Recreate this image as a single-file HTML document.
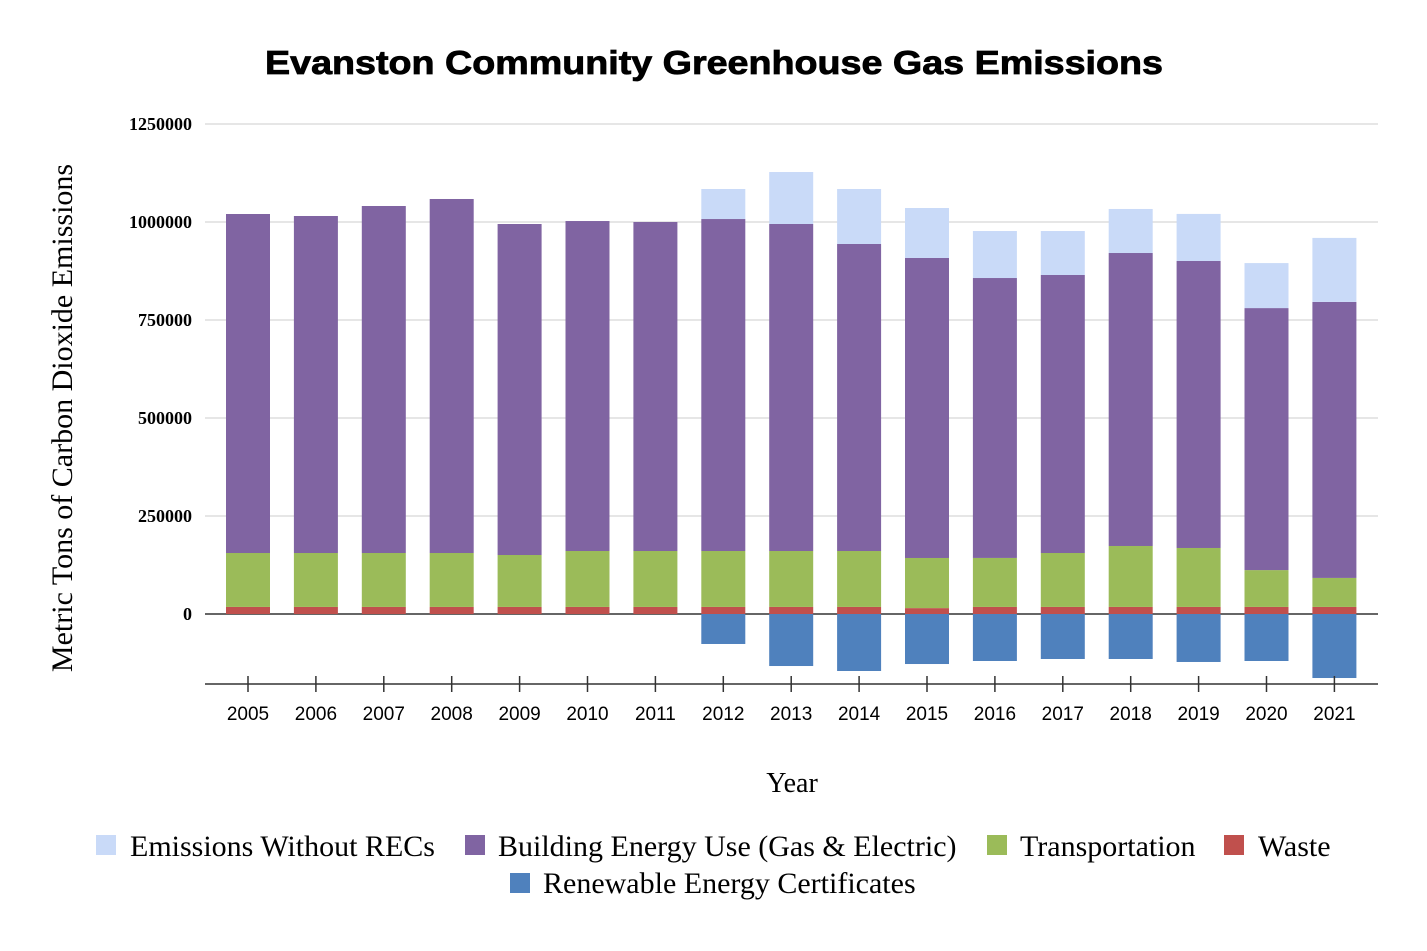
<!DOCTYPE html>
<html><head><meta charset="utf-8">
<style>
body{margin:0;background:#fff;}
svg text{font-family:"Liberation Serif",serif;}
</style></head>
<body>
<svg id="chart" width="1427" height="946" xmlns="http://www.w3.org/2000/svg">
<text x="265" y="74" textLength="898" lengthAdjust="spacingAndGlyphs" style="font-family:'Liberation Sans',sans-serif;font-weight:bold;font-size:33px;stroke:#000;stroke-width:0.8">Evanston Community Greenhouse Gas Emissions</text>
<text transform="translate(72,418) rotate(-90)" text-anchor="middle" font-size="30">Metric Tons of Carbon Dioxide Emissions</text>
<text x="792" y="792" text-anchor="middle" font-size="28">Year</text>
<g id="grid"></g><g id="bars"></g><g id="axes"></g>
<g font-size="30">
<rect x="96" y="835" width="20" height="20" fill="#c9daf8"/>
<text x="130" y="856">Emissions Without RECs</text>
<rect x="465" y="835" width="20" height="20" fill="#8064a2"/>
<text x="498" y="856">Building Energy Use (Gas &amp; Electric)</text>
<rect x="987" y="835" width="20" height="20" fill="#9bbb59"/>
<text x="1020" y="856">Transportation</text>
<rect x="1224" y="835" width="20" height="20" fill="#c0504d"/>
<text x="1258" y="856">Waste</text>
<rect x="510" y="873" width="20" height="20" fill="#4f81bd"/>
<text x="543" y="893">Renewable Energy Certificates</text>
</g>
</svg>
<script>
const years=["2005","2006","2007","2008","2009","2010","2011","2012","2013","2014","2015","2016","2017","2018","2019","2020","2021"];
const waste=[18000,18000,18000,18000,18000,18000,18000,18000,18000,18000,15000,18000,18000,18000,18000,18000,18000];
const transportation=[137600,137600,137600,137600,132500,142700,142700,142700,142700,142700,127900,125000,137600,155500,150400,94000,74000];
const building=[864800,859700,885200,903100,844400,841800,839300,846900,834200,783200,765300,714100,709200,747400,732100,668400,704100];
const withoutRecs=[0,0,0,0,0,0,0,76600,132600,140300,127500,119900,112200,112300,120100,114800,163300];
const recs=[0,0,0,0,0,0,0,-76500,-132700,-145400,-127600,-119900,-114800,-114800,-122400,-119900,-163300];
const yTicks=[0,250000,500000,750000,1000000,1250000];
const NS="http://www.w3.org/2000/svg";
const y0=614, pxPer=98/250000;
function y(v){return y0-v*pxPer;}
function x(i){return 248+i*67.9;}
function mk(tag,attrs,parent){const e=document.createElementNS(NS,tag);for(const k in attrs)e.setAttribute(k,attrs[k]);parent.appendChild(e);return e;}
const grid=document.getElementById('grid'),bars=document.getElementById('bars'),axes=document.getElementById('axes');
yTicks.forEach(t=>{
  const l=mk('line',{x1:205,x2:1378,y1:y(t),y2:y(t),stroke:t===0?'#333':'#ccc','stroke-width':t===0?1.5:1},grid);
  
  
  const tx=mk('text',{x:192,y:y(t)+6,'text-anchor':'end','font-size':18,'font-weight':'bold'},grid);
  
  
  tx.textContent=t;
});
const bw=44;
years.forEach((yr,i)=>{
  const segs=[[0,waste[i],'#c0504d','bar-waste'],[waste[i],transportation[i],'#9bbb59','bar-transportation'],[waste[i]+transportation[i],building[i],'#8064a2','bar-building'],[waste[i]+transportation[i]+building[i],withoutRecs[i],'#c9daf8','bar-without-recs']];
  segs.forEach(s=>{
    if(s[1]<=0)return;
    const r=mk('rect',{x:x(i)-bw/2,y:y(s[0]+s[1]),width:bw,height:s[1]*pxPer,fill:s[2]},bars);
    
    
  });
  if(recs[i]<0){
    const r=mk('rect',{x:x(i)-bw/2,y:y(0),width:bw,height:-recs[i]*pxPer,fill:'#4f81bd'},bars);
    
    
  }
  const tk=mk('line',{x1:x(i),x2:x(i),y1:676,y2:692,stroke:'#333','stroke-width':1.5},axes);
  
  
  const t=mk('text',{x:x(i),y:720,'text-anchor':'middle','font-size':19,style:"font-family:'Liberation Sans',sans-serif"},axes);
  
  
  t.textContent=yr;
});
const ax=mk('line',{x1:205,x2:1378,y1:684,y2:684,stroke:'#333','stroke-width':1.5},axes);


</script>
</body></html>
